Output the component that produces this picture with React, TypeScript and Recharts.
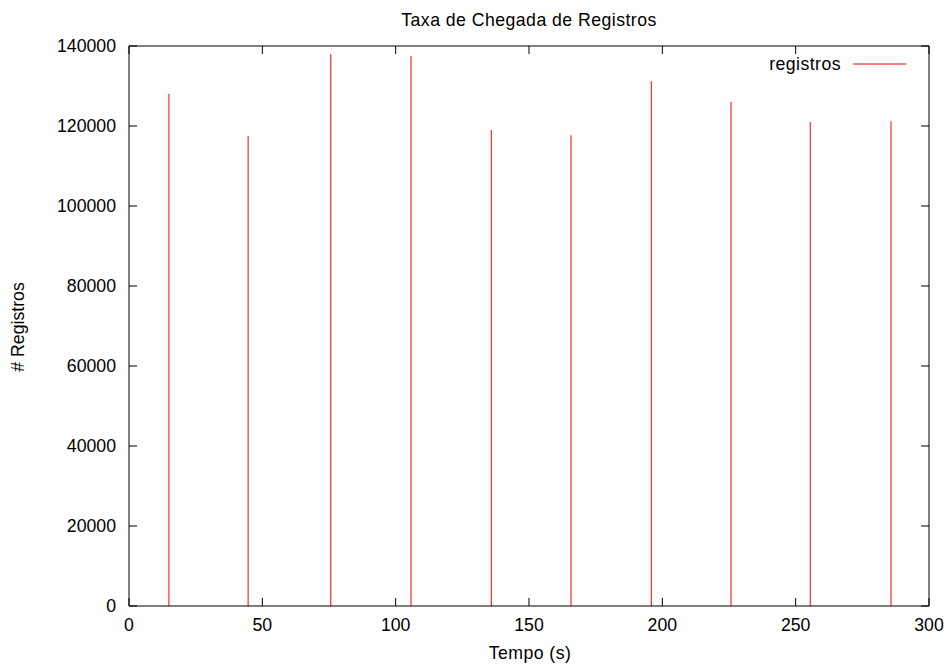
import React from 'react';
import { BarChart, Bar, XAxis, YAxis } from 'recharts';

const tempos = [15, 44.7, 75.7, 105.8, 135.9, 165.8, 195.9, 225.8, 255.5, 285.8];
const registros = [128000, 117500, 138000, 137500, 119000, 117700, 131200, 126000, 121000, 121200];
const xTicks = [0, 50, 100, 150, 200, 250, 300];
const yTicks = [0, 20000, 40000, 60000, 80000, 100000, 120000, 140000];
const seriesName = 'registros';

const data = tempos.map((t, i) => ({ t, registros: registros[i] }));

const FONT = '"Liberation Sans", Arial, Helvetica, sans-serif';
const FS = 17.7;
const LS = 0.45;
const tickStyle = { fontSize: FS, fill: '#000', fontFamily: FONT };
const lineStyle = { stroke: '#000', strokeWidth: 1 };

export default function App() {
  return (
    <div style={{ position: 'absolute', left: 0, top: 0, width: 948, height: 666, background: '#fff' }}>
      <BarChart
        width={948}
        height={666}
        data={data}
        margin={{ top: 45, right: 18, bottom: 0, left: 0 }}
        barCategoryGap={0}
      >
        <XAxis
          xAxisId="b"
          dataKey="t"
          type="number"
          domain={[0, 300]}
          ticks={xTicks}
          height={60}
          tickSize={-8}
          tickMargin={20}
          tick={tickStyle}
          axisLine={lineStyle}
          tickLine={lineStyle}
          allowDataOverflow
        />
        <XAxis
          xAxisId="t"
          dataKey="t"
          type="number"
          orientation="top"
          domain={[0, 300]}
          ticks={xTicks}
          height={1}
          tickSize={-8}
          tick={{ fontSize: 1, fill: 'none' }}
          tickFormatter={() => ''}
          axisLine={lineStyle}
          tickLine={lineStyle}
          allowDataOverflow
        />
        <YAxis
          yAxisId="l"
          type="number"
          domain={[0, 140000]}
          ticks={yTicks}
          width={129}
          tickSize={-8}
          tickMargin={21}
          tick={tickStyle}
          axisLine={lineStyle}
          tickLine={lineStyle}
          allowDataOverflow
        />
        <YAxis
          yAxisId="r"
          orientation="right"
          type="number"
          domain={[0, 140000]}
          ticks={yTicks}
          width={1}
          tickSize={-8}
          tick={{ fontSize: 1, fill: 'none' }}
          tickFormatter={() => ''}
          axisLine={lineStyle}
          tickLine={lineStyle}
          allowDataOverflow
        />
        <Bar
          dataKey="registros"
          name={seriesName}
          xAxisId="b"
          yAxisId="l"
          fill="#ff0000"
          barSize={1}
          isAnimationActive={false}
        />
      </BarChart>
      <svg
        width={948}
        height={666}
        style={{ position: 'absolute', left: 0, top: 0, pointerEvents: 'none' }}
      >
        <text x={529} y={26} textAnchor="middle" fontFamily={FONT} fontSize={FS} letterSpacing={LS} fill="#000">
          Taxa de Chegada de Registros
        </text>
        <text x={530} y={659} textAnchor="middle" fontFamily={FONT} fontSize={FS} letterSpacing={LS} fill="#000">
          Tempo (s)
        </text>
        <text
          x={0}
          y={0}
          transform="translate(24,327) rotate(-90)"
          textAnchor="middle"
          fontFamily={FONT}
          fontSize={FS}
          fill="#000"
        >
          # Registros
        </text>
        <text x={841} y={70} textAnchor="end" fontFamily={FONT} fontSize={FS} letterSpacing={LS} fill="#000">
          {seriesName}
        </text>
        <line x1={853} x2={906} y1={64} y2={64} stroke="#ff0000" strokeWidth={1} />
      </svg>
    </div>
  );
}
